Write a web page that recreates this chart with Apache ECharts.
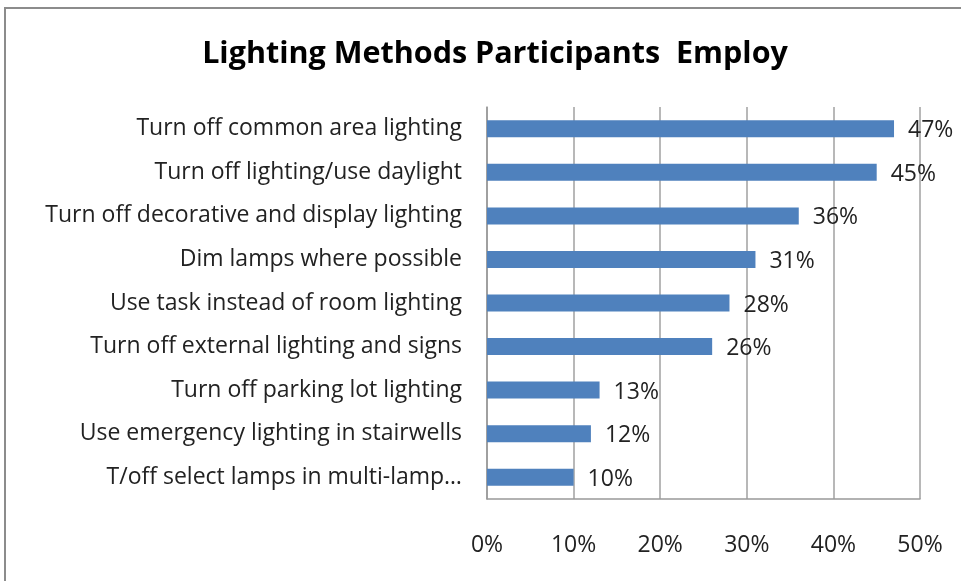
<!DOCTYPE html>
<html><head><meta charset="utf-8">
<script src="https://cdn.jsdelivr.net/npm/echarts@6/dist/echarts.min.js"></script>
<style>html,body{margin:0;padding:0;background:#fff}#c{width:961px;height:581px}</style>
</head><body><div id="c"></div>
<script>
const titleText = 'Lighting Methods Participants  Employ';
const categories = [
  'Turn off common area lighting',
  'Turn off lighting/use daylight',
  'Turn off decorative and display lighting',
  'Dim lamps where possible',
  'Use task instead of room lighting',
  'Turn off external lighting and signs',
  'Turn off parking lot lighting',
  'Use emergency lighting in stairwells',
  'T/off select lamps in multi-lamp\u2026'
];
const values = [47, 45, 36, 31, 28, 26, 13, 12, 10];
const xTicks = [0, 10, 20, 30, 40, 50];

const FONT = 'Open Sans';
const chart = echarts.init(document.getElementById('c'));
chart.setOption({
  animation: false,
  backgroundColor: '#fff',
  graphic: [{
    type: 'rect', shape: {x: 5, y: 8, width: 970, height: 590},
    style: {fill: 'none', stroke: '#8c8c8c', lineWidth: 2}, silent: true
  }],
  title: {
    text: titleText, left: 490, top: 34, textAlign: 'center',
    textStyle: {fontFamily: FONT, fontWeight: 'bold', fontSize: 30.5, color: '#000'}
  },
  grid: {left: 487, right: 41, top: 107, bottom: 82, containLabel: false},
  xAxis: {
    type: 'value', min: xTicks[0], max: xTicks[xTicks.length - 1], interval: 10,
    axisLine: {show: true, lineStyle: {color: '#999', width: 1.5}},
    axisTick: {show: false},
    splitLine: {show: true, lineStyle: {color: '#a0a0a0', width: 1.5}},
    axisLabel: {formatter: '{value}%', fontFamily: FONT, fontSize: 23, color: '#222', margin: 35}
  },
  yAxis: {
    type: 'category', data: categories, inverse: true,
    axisLine: {show: true, lineStyle: {color: '#999', width: 1.5}},
    axisTick: {show: false},
    axisLabel: {fontFamily: FONT, fontSize: 23, color: '#222', margin: 25}
  },
  series: [{
    type: 'bar', data: values, barWidth: 17,
    itemStyle: {color: '#4F81BD'},
    label: {show: true, position: 'right', distance: 14, offset: [0, 2], formatter: '{c}%',
      fontFamily: FONT, fontSize: 23, color: '#222'}
  }]
});
</script></body></html>
